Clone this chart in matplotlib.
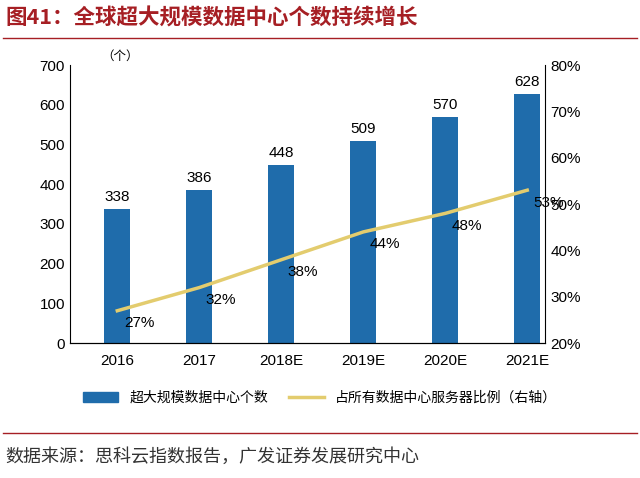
import matplotlib
matplotlib.use("Agg")
import matplotlib.pyplot as plt
from matplotlib.lines import Line2D

plt.rcParams['font.family'] = ['Liberation Sans', 'Noto Sans CJK SC', 'DejaVu Sans']

years = ["2016", "2017", "2018E", "2019E", "2020E", "2021E"]
counts = [338, 386, 448, 509, 570, 628]
share = [27, 32, 38, 44, 48, 53]

bar_color = "#1f6cab"
line_color = "#e3cc6e"

fig = plt.figure(figsize=(6.4, 4.78), dpi=100)
ax = fig.add_axes([0.109, 0.282, 0.743, 0.582])
x = range(len(years))
ax.bar(x, counts, width=0.32, color=bar_color, zorder=2)
for i, v in enumerate(counts):
    ax.text(i, v + 12, str(v), ha='center', va='bottom', fontsize=11)
ax.set_ylim(0, 700)
ax.set_yticks(range(0, 701, 100))
ax.set_xlim(-0.58, 5.22)
ax.set_xticks(list(x))
ax.set_xticklabels(years)
ax.tick_params(labelsize=11, length=0)
ax.tick_params(axis='x', pad=8)
ax.spines['top'].set_visible(False)
ax.spines['right'].set_visible(False)
ax.text(-0.2, 705, "（个）", fontsize=9, va='bottom', family=['Noto Sans CJK SC'])

ax2 = ax.twinx()
ax2.plot(list(x), share, color=line_color, lw=2.5, zorder=3)
for i, v in enumerate(share):
    ax2.text(i + 0.08, v - 1.2, f"{v}%", ha='left', va='top', fontsize=11)
ax2.set_ylim(20, 80)
ax2.set_yticks(range(20, 81, 10))
ax2.set_yticklabels([f"{t}%" for t in range(20, 81, 10)])
ax2.tick_params(labelsize=11, length=0)
ax2.spines['top'].set_visible(False)
ax2.spines['left'].set_visible(False)

handles = [plt.Rectangle((0, 0), 1, 1, color=bar_color),
           Line2D([0], [0], color=line_color, lw=2.5)]
fig.legend(handles, ["超大规模数据中心个数", "占所有数据中心服务器比例（右轴）"],
           loc='center', bbox_to_anchor=(0.5, 0.168), ncol=2, frameon=False,
           prop={'family': ['Noto Sans CJK SC'], 'size': 10},
           handlelength=2.5, columnspacing=1.5)

fig.text(0.008, 0.962, "图41：全球超大规模数据中心个数持续增长", fontsize=15.5,
         fontweight='bold', color="#a61f24", va='center', family=['Noto Sans CJK SC'])
fig.add_artist(Line2D([0.005, 0.995], [0.92, 0.92], color="#a61f24", lw=1))
fig.add_artist(Line2D([0.005, 0.995], [0.095, 0.095], color="#a61f24", lw=1))
fig.text(0.008, 0.045, "数据来源：思科云指数报告，广发证券发展研究中心", fontsize=13,
         va='center', color="#333333", family=['Noto Sans CJK SC'])

fig.savefig("out.png", dpi=100)
